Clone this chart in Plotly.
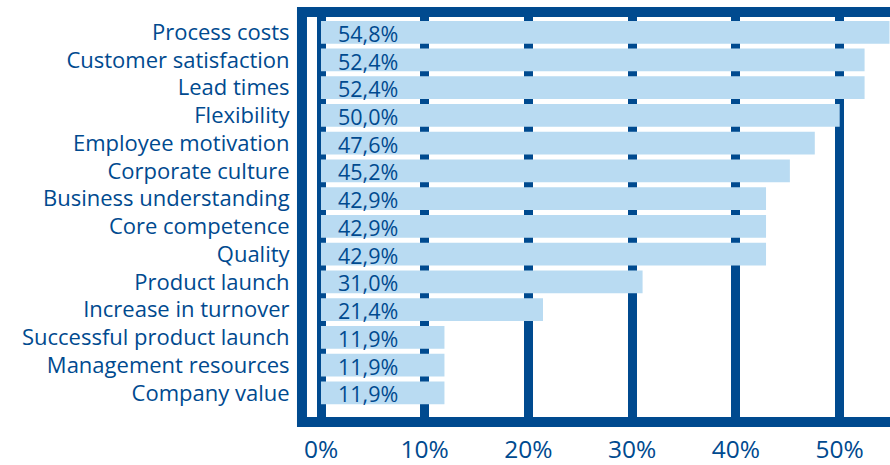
import plotly.graph_objects as go

categories = ["Process costs", "Customer satisfaction", "Lead times", "Flexibility",
              "Employee motivation", "Corporate culture", "Business understanding",
              "Core competence", "Quality", "Product launch", "Increase in turnover",
              "Successful product launch", "Management resources", "Company value"]
values = [54.8, 52.4, 52.4, 50.0, 47.6, 45.2, 42.9, 42.9, 42.9, 31.0, 21.4, 11.9, 11.9, 11.9]
tick_vals = [0, 10, 20, 30, 40, 50]
tick_text = ["0%", "10%", "20%", "30%", "40%", "50%"]

DARK = "#004a8f"
LIGHT = "#b9dbf2"
FONT = "Open Sans"

fig = go.Figure()
fig.add_trace(go.Bar(
    x=values, y=categories, orientation="h",
    marker=dict(color=LIGHT, line=dict(width=0)),
    hoverinfo="skip",
))

for c, v in zip(categories, values):
    fig.add_annotation(x=0, y=c, xref="x", yref="y",
                       text=f"{v:.1f}".replace(".", ",") + "%",
                       showarrow=False, xanchor="left", xshift=16, yshift=-1,
                       borderpad=0,
                       font=dict(family=FONT, size=21.5, color=DARK))

fig.update_layout(
    width=890, height=465,
    margin=dict(l=307, r=0, t=17, b=43),
    paper_bgcolor="white", plot_bgcolor="white",
    bargap=0.18, showlegend=False,
    font=dict(family=FONT, color=DARK),
)
fig.update_xaxes(
    range=[-1.35, 54.85], tickvals=tick_vals, ticktext=tick_text,
    showgrid=True, gridcolor=DARK, gridwidth=9, zeroline=False,
    ticks="outside", ticklen=11, tickcolor="rgba(0,0,0,0)",
    tickfont=dict(family=FONT, size=24.5, color=DARK),
    showline=False, fixedrange=True,
)
fig.update_yaxes(
    range=[13.87, -0.55], type="category",
    tickmode="array", tickvals=categories, ticktext=categories,
    showgrid=False, zeroline=False,
    ticks="outside", ticklen=12, tickcolor="rgba(0,0,0,0)",
    tickfont=dict(family=FONT, size=22, color=DARK),
    showline=False, fixedrange=True,
)
# frame (top, left, bottom); right side runs off the canvas
fig.add_shape(type="rect", xref="paper", yref="paper",
              x0=-0.0086, x1=1.05, y0=-0.0123, y1=1.0123,
              line=dict(color=DARK, width=10), fillcolor="rgba(0,0,0,0)",
              layer="above")

fig.write_html("out.html")
